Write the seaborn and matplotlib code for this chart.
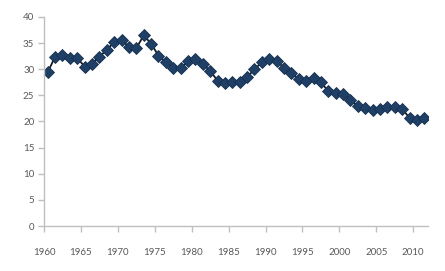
import matplotlib
matplotlib.use("Agg")
import matplotlib.pyplot as plt
import seaborn as sns
import pandas as pd
import numpy as np

years = list(range(1960, 2012))
values = [29.4, 32.4, 32.7, 32.2, 32.2, 30.5, 31.0, 32.4, 33.7, 35.2,
          35.6, 34.3, 34.0, 36.5, 34.9, 32.6, 31.4, 30.3, 30.2, 31.5,
          31.9, 31.0, 29.7, 27.8, 27.4, 27.6, 27.6, 28.5, 30.0, 31.3,
          32.0, 31.6, 30.3, 29.2, 28.2, 27.8, 28.3, 27.5, 25.8, 25.5,
          25.2, 24.2, 22.9, 22.5, 22.2, 22.3, 22.8, 22.7, 22.4, 20.7,
          20.2, 20.7]
tick_labels = [1960, 1965, 1970, 1975, 1980, 1985, 1990, 1995, 2000, 2005, 2010]
y_ticks = [0, 5, 10, 15, 20, 25, 30, 35, 40]

df = pd.DataFrame({"year": years, "value": values})

sns.set_style("white")
plt.rcParams["font.family"] = ["Lato", "DejaVu Sans"]

fig = plt.figure(figsize=(4.45, 2.71), dpi=100)
ax = fig.add_axes([44/445, 45/271, (428-44)/445, (226-17)/271])

sns.lineplot(data=df, x="year", y="value", ax=ax, color="#1a1a1a", linewidth=1.3,
             marker="D", markersize=6.5, markerfacecolor="#1F3F66",
             markeredgecolor="#15304F", markeredgewidth=0.6)

ax.set_xlim(1959.5, 2011.5)
ax.set_ylim(0, 40)
ax.set_xticks([t - 0.5 for t in tick_labels])
ax.set_xticklabels([str(t) for t in tick_labels])
ax.set_yticks(y_ticks)
ax.set_yticklabels([str(t) for t in y_ticks])
ax.set_xlabel("")
ax.set_ylabel("")

for s in ["top", "right"]:
    ax.spines[s].set_visible(False)
for s in ["left", "bottom"]:
    ax.spines[s].set_color("#BFBFBF")
    ax.spines[s].set_linewidth(1.0)

ax.tick_params(axis="y", direction="out", length=4, width=1, color="#BFBFBF",
               labelsize=7, labelcolor="#595959", pad=3, left=True)
ax.tick_params(axis="x", direction="out", length=4, width=1, color="#BFBFBF",
               labelsize=7, labelcolor="#595959", pad=12, bottom=True)
ax.grid(False)

fig.savefig("out.png", dpi=100)
